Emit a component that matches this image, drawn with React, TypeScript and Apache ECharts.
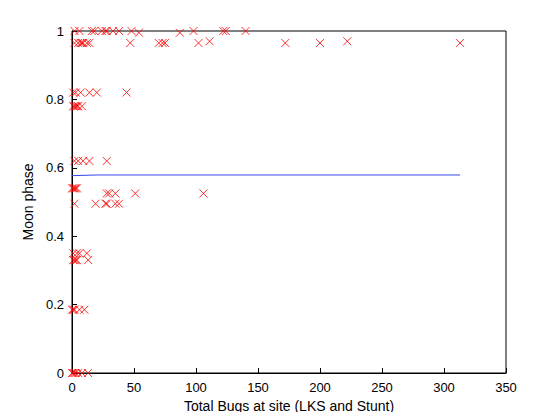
import React, { useEffect, useRef } from "react";
import * as echarts from "echarts";

const row100 = [2, 6, 16, 18, 24, 27, 28, 33, 38, 48, 98, 122, 124, 140];
const row099 = [54, 87];
const row096 = [2, 5, 7, 8, 9, 12, 14, 47, 70, 73, 75, 102, 172, 200, 313];
const row097 = [111, 222];
const row082 = [1, 3, 7, 14, 20, 44];
const row078 = [1, 2, 3, 4, 5, 8];
const row062 = [2, 5, 9, 14, 28];
const row054 = [0, 1, 2, 3, 4];
const row0525 = [28, 30, 35, 51, 106];
const row0495 = [2, 19, 27, 28, 35, 38];
const row035 = [1, 4, 6, 12];
const row033 = [1, 2, 3, 4, 13];
const row0185 = [0, 1, 2, 6, 10];
const row000 = [0, 1, 2, 3, 5, 8, 13];
const fitX = [0, 20, 313];
const fitY = [0.577, 0.579, 0.579];

const rows: [number[], number][] = [
  [row100, 1.0], [row099, 0.995], [row096, 0.965], [row097, 0.97], [row082, 0.82],
  [row078, 0.78], [row062, 0.62], [row054, 0.54], [row0525, 0.525], [row0495, 0.495],
  [row035, 0.35], [row033, 0.33], [row0185, 0.185], [row000, 0.0],
];

export default function App() {
  const ref = useRef<HTMLDivElement>(null);
  useEffect(() => {
    const chart = echarts.init(ref.current!, null, { renderer: "svg" });
    const pts: number[][] = [];
    rows.forEach(([xs, y]) => xs.forEach((x) => pts.push([x, y])));
    const axisCommon = {
      axisLine: { show: true, onZero: false, lineStyle: { color: "#000" } },
      axisTick: { inside: true, length: 5, lineStyle: { color: "#000" } },
      splitLine: { show: false },
      axisLabel: { color: "#000", fontSize: 13, fontFamily: "Liberation Sans" },
      nameTextStyle: { color: "#000", fontSize: 14, fontFamily: "Liberation Sans" },
      nameLocation: "middle" as const,
    };
    chart.setOption({
      animation: false,
      grid: { left: 72, right: 54, top: 31, bottom: 47, show: true, borderColor: "#000", borderWidth: 1 },
      xAxis: { type: "value", min: 0, max: 350, interval: 50, name: "Total Bugs at site (LKS and Stunt)", nameGap: 24, ...axisCommon },
      yAxis: { type: "value", min: 0, max: 1, interval: 0.2, name: "Moon phase", nameGap: 36, ...axisCommon },
      series: [
        {
          type: "scatter",
          data: pts,
          symbol: "path://M0,0L10,10M10,0L0,10",
          symbolSize: 8,
          itemStyle: { color: "none", borderColor: "#ff0000", borderWidth: 1 },
        },
        {
          type: "line",
          data: fitX.map((x, i) => [x, fitY[i]]),
          showSymbol: false,
          lineStyle: { color: "#3344ee", width: 1 },
        },
      ],
    });
    return () => chart.dispose();
  }, []);
  return <div ref={ref} style={{ width: 560, height: 420, margin: -8 }} />;
}
